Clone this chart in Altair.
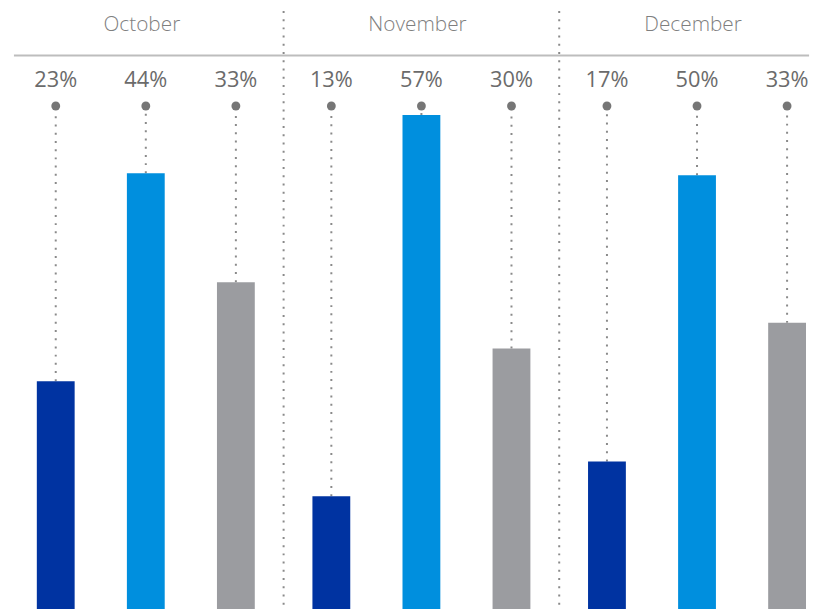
import altair as alt
import pandas as pd

# ---- data ----
months = ["October", "November", "December"]
series = ["s1", "s2", "s3"]
series_colors = ["#0033A1", "#008FDE", "#9B9CA0"]
# percentage labels shown above each bar
pct_labels = {
    "October": [23, 44, 33],
    "November": [13, 57, 30],
    "December": [17, 50, 33],
}
# bar heights as drawn (relative units)
bar_heights = {
    "October": [23.0, 44.0, 33.0],
    "November": [11.4, 49.9, 26.3],
    "December": [14.9, 43.8, 28.9],
}

rows = []
for m in months:
    for s, p, h in zip(series, pct_labels[m], bar_heights[m]):
        rows.append({"month": m, "series": s, "pct": p, "lbl": f"{p}%", "h": h})
df = pd.DataFrame(rows)
month_df = pd.DataFrame({"month": months})
sep_df = pd.DataFrame({"month": months[1:]})
one_df = pd.DataFrame({"a": [0]})

W, H = 817, 601
xscale = alt.Scale(domain=months, range=[0, 835], paddingInner=0, paddingOuter=0)
offscale = alt.Scale(domain=series, paddingInner=0.58, paddingOuter=0.32)
yscale = alt.Scale(domain=[0, 60.4], range=[604, 0])

base = alt.Chart(df).encode(
    x=alt.X("month:N", sort=months, scale=xscale, axis=None),
    xOffset=alt.XOffset("series:N", sort=series, scale=offscale),
)

bars = base.mark_bar().encode(
    y=alt.Y("h:Q", scale=yscale, axis=None),
    color=alt.Color("series:N", scale=alt.Scale(domain=series, range=series_colors), legend=None),
)

connectors = base.mark_rule(strokeDash=[2, 6.3], color="#8a8a8a", strokeWidth=2).encode(
    y=alt.Y("h:Q", scale=yscale, axis=None),
    y2=alt.value(96),
)

dots = base.mark_circle(size=80, color="#767676", opacity=1).encode(y=alt.value(96))

labels = base.mark_text(fontSize=22, font="Open Sans", color="#6b6b6b", baseline="middle").encode(
    y=alt.value(70), text="lbl:N"
)

headers = alt.Chart(month_df).mark_text(
    fontSize=21, font="Open Sans", fontWeight=300, color="#7f7f7f", baseline="middle", dx=-4
).encode(
    x=alt.X("month:N", sort=months, scale=xscale, axis=None),
    y=alt.value(14),
    text="month:N",
)

seps = alt.Chart(sep_df).mark_rule(strokeDash=[2, 6.3], color="#8a8a8a", strokeWidth=2).encode(
    x=alt.X("month:N", sort=months, scale=xscale, axis=None, bandPosition=0),
    y=alt.value(0),
    y2=alt.value(H),
)

hline = alt.Chart(one_df).mark_rule(color="#bdbdbd", strokeWidth=2).encode(
    x=alt.value(6), x2=alt.value(809), y=alt.value(45)
)

chart = alt.layer(seps, hline, connectors, bars, dots, labels, headers).properties(
    width=W, height=H, autosize=alt.AutoSizeParams(type="none"), padding=0
).configure_view(strokeWidth=0)

chart.save("out.html", embed_options={"renderer": "svg", "actions": False})
